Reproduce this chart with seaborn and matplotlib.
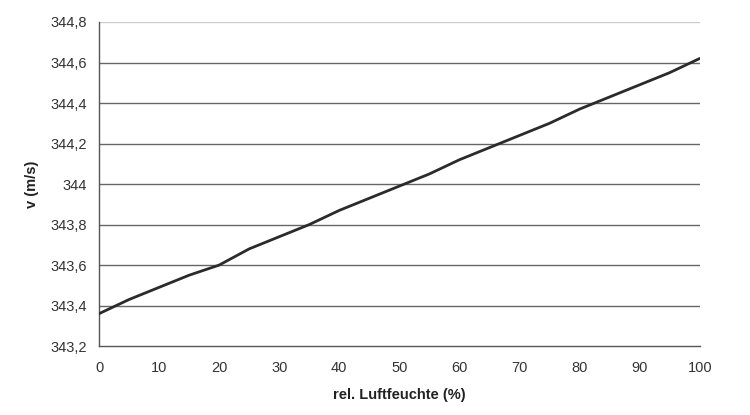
import matplotlib
matplotlib.use('Agg')
import matplotlib.pyplot as plt
import matplotlib.ticker as mticker
import seaborn as sns
import pandas as pd

# data
humidity = [0, 5, 10, 15, 20, 25, 30, 35, 40, 45, 50, 55, 60, 65, 70, 75, 80, 85, 90, 95, 100]
speed = [343.36, 343.43, 343.49, 343.55, 343.60, 343.68, 343.74, 343.80, 343.87, 343.93, 343.99,
         344.05, 344.12, 344.18, 344.24, 344.30, 344.37, 344.43, 344.49, 344.55, 344.62]
y_ticks = [343.2, 343.4, 343.6, 343.8, 344.0, 344.2, 344.4, 344.6, 344.8]
x_ticks = list(range(0, 101, 10))

df = pd.DataFrame({'rh': humidity, 'v': speed})

sns.set_style('white')
plt.rcParams['font.family'] = ['Liberation Sans', 'DejaVu Sans']

fig = plt.figure(figsize=(7.5, 4.15), dpi=100)
ax = fig.add_axes([0.132, 0.166, 0.801, 0.781])

for t in y_ticks[1:]:
    ax.axhline(t, color='#666666' if t < 344.8 else '#cccccc', lw=1.0, zorder=1)

sns.lineplot(data=df, x='rh', y='v', ax=ax, color='#2b2b2b', lw=2.0, zorder=3)

ax.set_xlim(0, 100)
ax.set_ylim(343.2, 344.8)
ax.set_xticks(x_ticks)
ax.set_yticks(y_ticks)

def comma_fmt(v, pos):
    s = f'{v:.1f}'
    if s.endswith('.0'):
        s = s[:-2]
    return s.replace('.', ',')

ax.yaxis.set_major_formatter(mticker.FuncFormatter(comma_fmt))

for side in ['top', 'right']:
    ax.spines[side].set_visible(False)
for side in ['left', 'bottom']:
    ax.spines[side].set_color('#555555')
    ax.spines[side].set_linewidth(1.0)

ax.tick_params(axis='both', which='major', direction='out', length=5, width=1.0,
               color='#555555', labelsize=10.5, labelcolor='#333333')
ax.tick_params(axis='x', pad=6)
ax.tick_params(axis='y', pad=4)

ax.set_xlabel('rel. Luftfeuchte (%)', fontsize=10.5, fontweight='bold', color='#222222', labelpad=9)
ax.set_ylabel('v (m/s)', fontsize=10.5, fontweight='bold', color='#222222', labelpad=8)

fig.savefig('out.png', dpi=100)
